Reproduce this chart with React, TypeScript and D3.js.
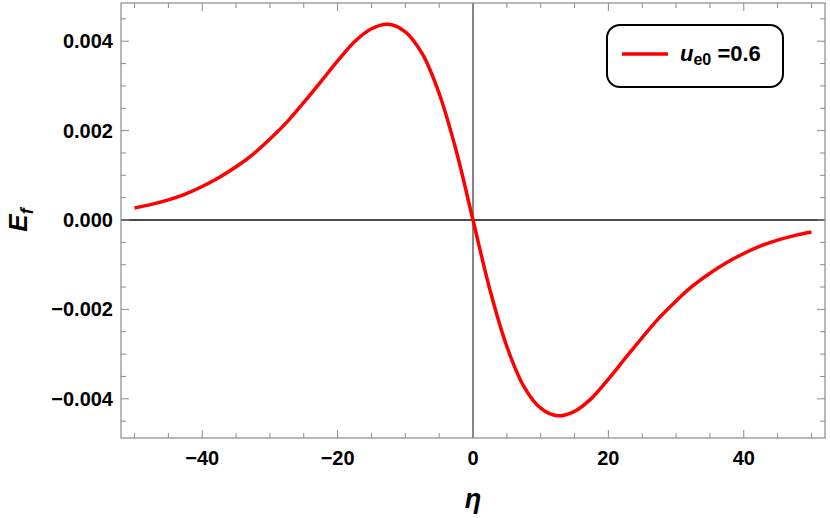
import React from 'react';
import * as d3 from 'd3';

// values (every 2.5 units of η)
const eta = d3.range(-50, 50.01, 2.5);
const efLeft = [0.00027, 0.00035, 0.00045, 0.00058, 0.00075, 0.00095, 0.00119, 0.00147, 0.00181,
  0.00219, 0.00263, 0.00309, 0.00356, 0.00399, 0.00428, 0.00438, 0.00421, 0.00372, 0.00283, 0.00156];
const efRight = [-0.00156, -0.00283, -0.00372, -0.00421, -0.00438, -0.00428, -0.00399, -0.00356,
  -0.00309, -0.00263, -0.00219, -0.00181, -0.00147, -0.00119, -0.00095, -0.00075, -0.00058,
  -0.00045, -0.00035, -0.00027];
const ef = [...efLeft, 0, ...efRight];
const xTicks = [-40, -20, 0, 20, 40];
const yTicks = [-0.004, -0.002, 0, 0.002, 0.004];
const legendLabel = '=0.6';

const W = 830, H = 518;
const margin = { left: 121, right: 5, top: 3, bottom: 80 };

export default function App() {
  const x = d3.scaleLinear().domain([-52, 52]).range([margin.left, W - margin.right]);
  const y = d3.scaleLinear().domain([-0.004877, 0.004855]).range([H - margin.bottom, margin.top]);
  const x0 = margin.left, x1 = W - margin.right, y0 = H - margin.bottom, y1 = margin.top;

  const line = d3.line<number>()
    .x((d, i) => x(eta[i]))
    .y(d => y(d))
    .curve(d3.curveCatmullRom);

  const xMinor = d3.range(-50, 51, 5).filter(v => v % 20 !== 0);
  const yMinor = d3.range(-9, 10).map(v => v * 0.0005).filter(v => Math.abs(Math.round(v * 10000)) % 20 !== 0);
  const fmt = (v: number) => (v < 0 ? '\u2212' : '') + d3.format('.3f')(Math.abs(v));
  const tickCol = '#8a8a8a';
  const font = 'Liberation Sans, Arial, sans-serif';

  return (
    <svg width={W} height={H} style={{ position: 'absolute', left: 0, top: 0 }}>
      <rect x={0} y={0} width={W} height={H} fill="#fff" />
      {/* zero axes */}
      <line x1={x(0)} x2={x(0)} y1={y0} y2={y1} stroke="#444" strokeWidth={1.3} />
      <line x1={x0} x2={x1} y1={y(0)} y2={y(0)} stroke="#111" strokeWidth={1.3} />
      {/* frame */}
      <rect x={x0} y={y1} width={x1 - x0} height={y0 - y1} fill="none" stroke={tickCol} strokeWidth={1.2} />
      {/* ticks */}
      {xTicks.map(v => (
        <g key={'xt' + v}>
          <line x1={x(v)} x2={x(v)} y1={y0} y2={y0 - 8} stroke={tickCol} />
          <line x1={x(v)} x2={x(v)} y1={y1} y2={y1 + 8} stroke={tickCol} />
          <text x={x(v)} y={y0 + 27} textAnchor="middle" fontFamily={font} fontWeight="bold" fontSize={20}>
            {v < 0 ? '\u2212' + Math.abs(v) : v}
          </text>
        </g>
      ))}
      {xMinor.map(v => (
        <g key={'xm' + v}>
          <line x1={x(v)} x2={x(v)} y1={y0} y2={y0 - 5} stroke={tickCol} />
          <line x1={x(v)} x2={x(v)} y1={y1} y2={y1 + 5} stroke={tickCol} />
        </g>
      ))}
      {yTicks.map(v => (
        <g key={'yt' + v}>
          <line x1={x0} x2={x0 + 8} y1={y(v)} y2={y(v)} stroke={tickCol} />
          <line x1={x1} x2={x1 - 8} y1={y(v)} y2={y(v)} stroke={tickCol} />
          <text x={x0 - 8} y={y(v) + 7} textAnchor="end" fontFamily={font} fontWeight="bold" fontSize={20}>
            {fmt(v)}
          </text>
        </g>
      ))}
      {yMinor.map(v => (
        <g key={'ym' + v}>
          <line x1={x0} x2={x0 + 5} y1={y(v)} y2={y(v)} stroke={tickCol} />
          <line x1={x1} x2={x1 - 5} y1={y(v)} y2={y(v)} stroke={tickCol} />
        </g>
      ))}
      {/* curve */}
      <path d={line(ef) || ''} fill="none" stroke="#ff0000" strokeWidth={3.5} />
      {/* axis labels */}
      <text x={x(0)} y={508} textAnchor="middle" fontFamily={font} fontWeight="bold" fontStyle="italic" fontSize={27}>η</text>
      <text transform={`translate(27,${y(0)}) rotate(-90)`} textAnchor="middle" fontFamily={font} fontWeight="bold" fontStyle="italic" fontSize={26}>
        E<tspan fontSize={18} dy={6}>f</tspan>
      </text>
      {/* legend */}
      <rect x={607} y={25} width={176} height={62} rx={13} fill="#fff" stroke="#000" strokeWidth={2} />
      <line x1={622} x2={668} y1={54} y2={54} stroke="#ff0000" strokeWidth={3.5} />
      <text x={680} y={61} fontFamily={font} fontWeight="bold" fontSize={22}>
        <tspan fontStyle="italic">u</tspan>
        <tspan fontSize={16} dy={4}>e0</tspan>
        <tspan dy={-4}> {legendLabel}</tspan>
      </text>
    </svg>
  );
}
